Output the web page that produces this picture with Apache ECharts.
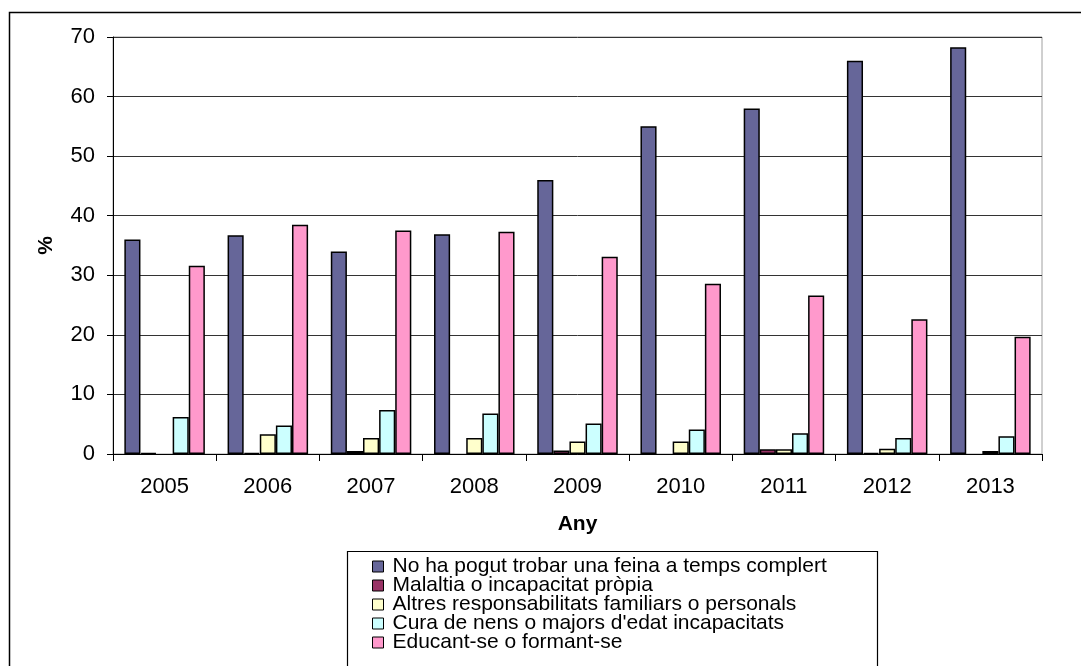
<!DOCTYPE html>
<html>
<head>
<meta charset="utf-8">
<script src="https://cdn.jsdelivr.net/npm/echarts@6/dist/echarts.min.js"></script>
<style>
html,body{margin:0;padding:0;background:#fff;}
#chart{width:1081px;height:666px;}
</style>
</head>
<body>
<div id="chart"></div>
<script>
var years = ['2005','2006','2007','2008','2009','2010','2011','2012','2013'];
var seriesNames = [
  'No ha pogut trobar una feina a temps complert',
  'Malaltia o incapacitat pròpia',
  'Altres responsabilitats familiars o personals',
  "Cura de nens o majors d'edat incapacitats",
  'Educant-se o formant-se'
];
var noFeina   = [36.0, 36.7, 34.0, 36.9, 46.0, 55.0, 58.0, 66.0, 68.3];
var malaltia  = [0.2, 0.2, 0.5, null, 0.6, null, 0.8, 0.2, null];
var altres    = [null, 3.3, 2.7, 2.7, 2.1, 2.1, 0.8, 0.9, 0.5];
var cura      = [6.2, 4.8, 7.4, 6.8, 5.1, 4.1, 3.5, 2.7, 3.0];
var educant   = [31.6, 38.5, 37.5, 37.3, 33.1, 28.6, 26.6, 22.6, 19.7];
var colors = ['#666699', '#993366', '#FFFFCC', '#CCFFFF', '#FF99CC'];
var yTicks = { min: 0, max: 70, interval: 10 };

var FONT = '"Liberation Sans", Arial, sans-serif';
var allData = [noFeina, malaltia, altres, cura, educant];
var chart = echarts.init(document.getElementById('chart'), null, {renderer: 'canvas'});

var series = allData.map(function (d, i) {
  return {
    name: seriesNames[i],
    type: 'bar',
    data: d,
    barGap: '0%',
    barCategoryGap: '22%',
    itemStyle: { color: colors[i], borderColor: '#000', borderWidth: 1.5 },
    emphasis: { disabled: true }
  };
});

chart.setOption({
  animation: false,
  backgroundColor: '#fff',
  textStyle: { fontFamily: FONT },
  graphic: [
    { type: 'rect', shape: { x: 9.5, y: 12.5, width: 1200, height: 800 },
      style: { fill: 'none', stroke: '#000', lineWidth: 1.5 }, z: -10 },
    { type: 'rect', shape: { x: 347.5, y: 551.5, width: 530, height: 200 },
      style: { fill: '#fff', stroke: '#000', lineWidth: 1.2 }, z: -5 }
  ],
  grid: { left: 113, right: 39, top: 37, bottom: 212, show: true,
          borderColor: '#a0a0a0', borderWidth: 1, containLabel: false },
  legend: {
    orient: 'vertical', left: 372, top: 556, height: 300,
    itemWidth: 11, itemHeight: 11, itemGap: -2, padding: 0,
    icon: 'rect',
    itemStyle: { borderColor: '#000', borderWidth: 1 },
    textStyle: { fontFamily: FONT, fontSize: 21, color: '#000', padding: [0,0,0,4] },
    data: seriesNames
  },
  xAxis: {
    type: 'category', data: years,
    name: 'Any', nameLocation: 'middle', nameGap: 60,
    nameTextStyle: { fontFamily: FONT, fontSize: 21, fontWeight: 'bold', color: '#000' },
    axisLine: { lineStyle: { color: '#000', width: 1 } },
    axisTick: { show: true, length: 7, lineStyle: { color: '#000' } },
    axisLabel: { fontFamily: FONT, fontSize: 22, color: '#000', margin: 22 },
    splitLine: { show: false }
  },
  yAxis: {
    type: 'value', min: yTicks.min, max: yTicks.max, interval: yTicks.interval,
    name: '%', nameLocation: 'middle', nameGap: 56, nameRotate: 90,
    nameTextStyle: { fontFamily: FONT, fontSize: 21, fontWeight: 'bold', color: '#000' },
    axisLine: { show: true, lineStyle: { color: '#000', width: 1 } },
    axisTick: { show: true, length: 6, lineStyle: { color: '#000' } },
    axisLabel: { fontFamily: FONT, fontSize: 22, color: '#000', margin: 18 },
    splitLine: { show: true, lineStyle: { color: '#333', width: 1 } }
  },
  series: series
});
</script>
</body>
</html>
